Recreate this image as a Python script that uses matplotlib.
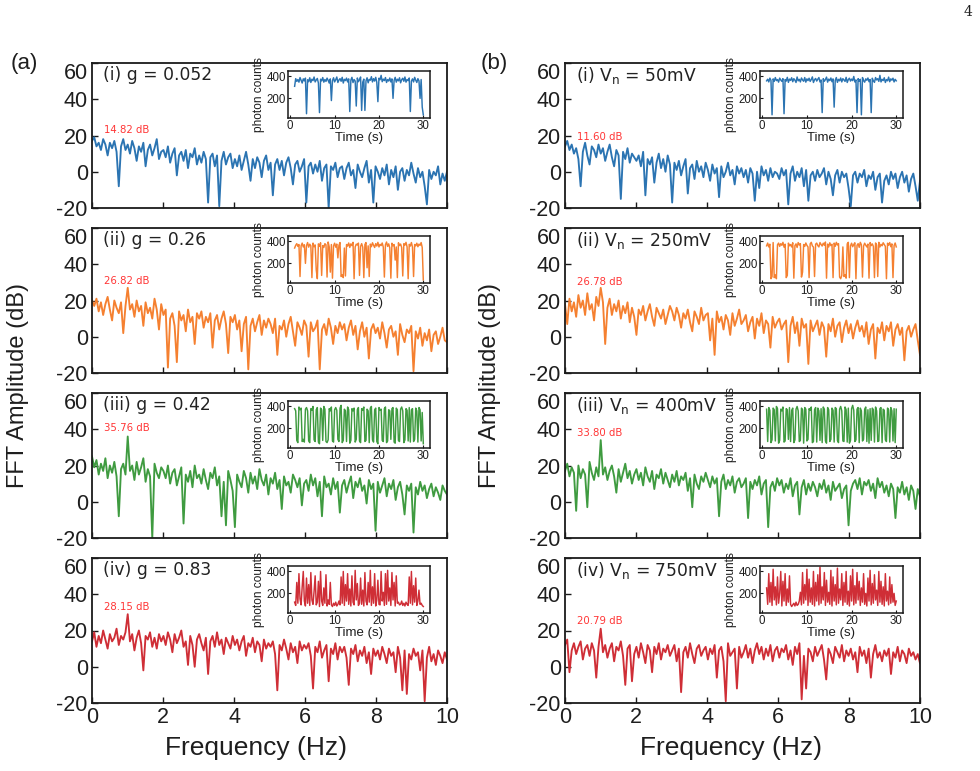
import numpy as np
import matplotlib
matplotlib.use("Agg")
import matplotlib.pyplot as plt

# ---------------- data ----------------
N_FFT = 160
freq = np.linspace(0, 10, N_FFT)

fft_a1 = [17, 19, 14, 16, 12, 18, 15, 9, 16, 13, 17, 11, -8, 14, 18, 12,
          15, 10, 17, 13, 6, 14, 11, 16, 3, 12, 15, 9, 13, 18, 7, 11,
          12, 8, 14, 5, 10, 13, -2, 9, 11, 6, 12, 2, 10, 8, 13, 4,
          9, 5, 11, 7, -17, 8, 10, 3, 9, -19, 6, 11, 4, 8, 10, 2,
          7, 3, 9, 1, 6, 11, 4, -5, 7, 2, 8, 5, -3, 6, 9, 1,
          5, -13, 4, 7, 1, 6, -2, 5, 8, 2, -7, 4, 6, 0, 3, 7,
          -17, 3, 5, -1, 4, 0, 6, -5, 2, 4, -20, 3, 1, 5, -3, 2,
          3, -4, 2, 5, -2, 1, -9, 4, 0, -3, 2, 6, -6, 1, -17, 3,
          0, -4, 2, -2, 4, -7, 1, -3, 3, -10, 0, 2, -5, 1, -2, 5,
          -1, -6, 2, -3, 0, -8, -18, 1, -4, 0, -2, 3, -7, -1, -5, 0]
fft_a2 = [20, 17, 21, 14, 19, 12, 18, 22, 15, 9, 20, 16, 13, 19, 2, 17,
          27, 15, 18, 11, 20, 14, 17, 6, 19, 13, 16, 10, 21, 15, 4, 18,
          12, 15, -17, 10, 13, 6, -14, 14, 9, 12, 3, 15, 8, 11, -4, 13,
          10, 14, 5, 11, 8, 13, -6, 9, 12, 4, 10, 14, 7, -9, 11, 8,
          12, 4, 9, -8, 7, 11, -18, 6, 10, 3, 8, 12, 1, 9, 5, 10,
          7, 2, 10, -10, 6, 4, 9, 0, 7, 11, 3, -5, 8, 5, 1, 9,
          6, -11, 8, 3, 5, 9, -18, 4, 7, 1, 10, 5, -4, 6, 2, 8,
          4, 7, -2, 5, 9, 1, 6, -7, 3, 8, 0, 5, -12, 4, 7, 2,
          5, -1, 8, 2, -6, 4, 6, 0, 3, -10, 7, 1, -3, 4, 2, 6,
          -19, 3, -1, 5, -5, 2, -2, 4, -8, 1, 3, -4, 0, 5, -2, -3]
fft_a3 = [25, 19, 23, 15, 21, 17, 24, 13, 20, 16, 22, 14, -8, 18, 21, 15,
          36, 17, 20, 12, 22, 15, 19, 24, 11, 18, 14, -20, 21, 16, 13, 19,
          17, 13, 20, 10, 16, 18, 9, 14, 19, -12, 15, 11, 17, 8, 20, 13,
          15, 10, 18, 12, 7, 16, 13, 19, 9, 14, -8, 11, -13, 17, 12, 6,
          -14, 15, 11, 8, 17, 13, 5, 16, 10, 14, 7, 18, 12, 9, 15, 4,
          13, 10, 16, 7, 12, -4, 14, 9, 11, 5, 15, 12, 8, 13, -2, 10,
          12, 6, 15, 9, 13, 3, 11, -8, 14, 8, 10, 4, 13, 7, 11, -6,
          9, 12, 5, 10, 14, 2, 11, 8, 13, 6, 9, -1, 12, 7, 10, -16,
          11, 5, 9, 13, 3, 10, 7, 12, 1, 8, 11, 4, -7, 9, 6, 10,
          -17, 8, 4, 11, 6, 9, 2, 7, 10, 3, 8, 5, 1, 9, 6, 4]
fft_a4 = [14, 19, 11, 17, 13, 20, 15, 10, 18, 14, 16, 21, 12, 17, 15, 19,
          29, 14, 18, 9, 16, 20, 13, -2, 17, 15, 19, 11, 16, 10, 18, 14,
          17, 12, 19, 15, 8, 18, 13, 16, 20, 11, 14, 1, 17, 12, 0, 15,
          18, 13, 9, 16, -4, 14, 17, 11, 19, 12, 15, 7, 16, 13, 10, 17,
          12, 15, 9, 14, 17, 6, 13, 11, 16, 8, 14, 12, 3, 15, 10, 13,
          11, 14, 7, -13, 12, 9, 15, 10, 4, 13, 8, 11, 2, 14, 9, 12,
          10, 13, 6, -12, 11, 8, 14, 5, 9, 12, -8, 10, 7, 13, 4, 11,
          8, 11, 5, -10, 10, 7, 12, 3, 9, 6, 11, 2, 8, -4, 10, 6,
          9, 4, 11, 7, 2, 10, 6, 8, -3, 11, 5, -13, 9, -15, 7, 4,
          10, 6, 8, -2, 9, -19, 5, 11, 3, 7, 1, 9, 6, 2, 8, 4]
fft_b1 = [14, 17, 12, 15, 10, 13, 7, -8, 11, 16, 9, 4, 14, 12, 8, 15,
          10, 13, 6, 11, 15, 8, 3, 12, 9, -15, 11, 7, 13, 5, 10, 8,
          6, 9, 3, 11, -13, 7, 4, 8, -6, 5, 10, 2, 7, 0, 9, 4,
          -17, 5, 1, 6, -2, 3, 7, -12, 2, 4, -4, 6, 0, 3, -3, 5,
          1, -5, 4, -1, 2, -14, 3, -3, 0, 5, -2, 1, -7, 3, -1, 2,
          -3, 1, -6, 2, -1, -16, 0, -9, 3, -2, 1, -5, 2, -3, 0, -1,
          -4, 2, -2, 1, -18, -1, 3, -5, 0, -3, 2, -8, 1, -16, -2, 0,
          -5, 1, -3, -1, 2, -7, 0, -4, -13, -2, 1, -6, 0, -3, -1, -9,
          -19, -2, 0, -6, -1, -3, 1, -8, -2, -4, 0, -10, -3, -1, -17, -5,
          -2, -7, 0, -4, -1, -9, -3, 0, -6, -2, -11, -4, -1, -8, -16, -5]
fft_b2 = [18, 7, 21, 14, 19, 11, 23, 16, 20, 12, 24, 15, 18, 9, 22, 17,
          27, 19, -4, 16, 21, 12, 18, 14, 20, 10, 17, 13, 19, 8, 16, 11,
          1, 15, 12, 17, 9, 14, 18, 11, 6, 16, 13, 10, 15, 7, 12, 17,
          14, 9, 16, 12, 5, 13, 10, 15, 8, 3, 14, 11, 7, 16, 9, 12,
          13, -2, 10, -10, 14, 8, 11, 4, 12, 9, 1, 13, 6, 10, 15, 7,
          9, 12, 3, 8, 11, -1, 10, 6, 13, 2, 9, 7, -6, 11, 5, 8,
          10, 4, 7, 9, -14, 6, 11, 2, 8, -5, 10, 5, 7, -15, 9, 3,
          6, 9, 1, 8, 5, -11, 7, 3, 10, 0, 6, 8, -3, 5, 9, 2,
          7, -1, 5, 9, 3, 6, 0, 8, -4, 4, 7, -12, 5, 2, 8, -2,
          6, 3, 8, -5, 4, 7, 1, 5, -13, 3, 6, 0, 4, 7, -2, -10]
fft_b3 = [17, 21, 14, 19, 16, -5, 20, 13, 18, 15, -3, 22, 16, 12, 19, 14,
          34, 15, 19, 12, 17, 20, 14, 5, 18, 11, 16, 21, 13, 17, 10, 15,
          18, 12, 16, 9, 19, 14, 11, 17, 7, 15, 13, 18, 10, 16, 12, 8,
          15, 11, 17, 9, 14, 12, 16, 6, 13, -3, 15, 10, 7, 14, 11, 16,
          12, 8, 14, 10, 13, -8, 11, 15, 7, 12, 9, 14, 5, 11, 13, 8,
          10, 13, -9, 11, 7, 12, 9, 14, 4, 10, 12, -14, 8, 11, 6, 13,
          9, 12, 5, 10, 7, 13, 3, 9, 11, -7, 8, 12, 4, 10, 6, 11,
          8, 3, 10, 7, 12, 5, 9, 1, 11, 6, 8, 10, 2, 7, 9, -13,
          6, 10, 12, 7, 13, 4, 11, 9, 12, 6, 10, 2, 13, 8, 11, 5,
          9, 3, 10, 7, -9, 8, 5, 11, 4, 8, 1, 9, 6, -4, 7, 3]
fft_b4 = [12, 15, -3, 9, 13, 7, 11, 14, 4, 10, 12, 6, 13, 9, -6, 11,
          21, 8, 12, 5, 10, 13, 3, 11, 9, 14, 6, -10, 10, 12, -8, 7,
          11, 5, 13, 8, 2, 12, 9, -3, 11, 7, 13, 4, 10, 8, 12, 6,
          9, 12, 3, 10, -14, 8, 11, 5, 13, 7, 2, 10, 12, 6, 9, 11,
          4, 10, 7, 12, -6, 9, 11, 3, -19, 13, 6, 8, 10, -12, 11, 5,
          8, 12, 5, 10, 2, 9, 13, 7, 11, 4, 10, 6, 12, 3, 9, 11,
          5, 10, 8, 12, 4, 9, 1, 11, 7, 13, -18, 6, -12, 10, 8, 3,
          11, 6, 9, 12, 4, -7, 10, 7, 2, 11, 8, 5, 12, 3, 9, 6,
          10, 4, 8, -3, 11, 6, 9, 2, 10, -6, 7, 12, 5, 8, 3, 9,
          6, 10, -4, 8, 5, 11, 3, 9, 7, 2, 10, 6, 8, 4, 7, 2]

N_T = 120
time_s = np.linspace(1, 30, N_T)

cnt_a1 = [310, 380, 355, 372, 348, 390, 365, 340, 378, 360, 385, 60,
          370, 352, 388, 345, 375, 362, 395, 350, 368, 382, 340, 70,
          375, 360, 390, 348, 372, 355, 385, 365, 340, 378, 180, 362,
          388, 350, 370, 395, 345, 368, 380, 356, 392, 340, 374, 362,
          385, 350, 378, 80, 366, 392, 344, 372, 358, 130, 386, 352,
          370, 395, 90, 348, 376, 90, 360, 388, 342, 374, 365, 398,
          350, 380, 358, 392, 346, 170, 384, 370, 410, 352, 376, 362,
          390, 345, 372, 358, 386, 350, 378, 200, 364, 392, 348, 375,
          360, 388, 342, 370, 384, 356, 395, 348, 372, 362, 386, 80,
          358, 378, 350, 392, 366, 345, 380, 360, 200, 372, 120, 50]
cnt_a2 = [340, 365, 380, 355, 372, 80, 360, 385, 350, 370, 200, 362,
          390, 348, 375, 360, 70, 385, 352, 368, 140, 60, 378, 355,
          388, 90, 362, 345, 380, 370, 75, 395, 350, 120, 372, 65,
          360, 384, 348, 376, 250, 365, 390, 80, 95, 70, 340, 85,
          372, 358, 386, 345, 378, 362, 392, 60, 350, 375, 368, 385,
          90, 355, 380, 348, 70, 372, 390, 160, 360, 80, 376, 352,
          388, 365, 345, 380, 358, 392, 350, 374, 362, 386, 348, 75,
          370, 395, 355, 378, 342, 65, 384, 360, 372, 230, 350, 70,
          388, 362, 376, 345, 85, 380, 366, 392, 350, 60, 374, 358,
          390, 348, 80, 372, 360, 384, 352, 376, 364, 390, 345, 50]
cnt_a3 = [380, 360, 90, 70, 395, 370, 385, 80, 100, 75, 375, 390,
          360, 85, 70, 380, 365, 400, 95, 80, 370, 390, 75, 60,
          385, 370, 90, 400, 375, 80, 70, 95, 380, 360, 395, 85,
          75, 370, 390, 365, 100, 80, 385, 410, 70, 90, 375, 360,
          80, 395, 370, 65, 90, 380, 360, 385, 75, 100, 370, 390,
          85, 70, 380, 365, 395, 80, 90, 375, 360, 70, 385, 400,
          95, 75, 370, 385, 80, 60, 390, 365, 375, 90, 80, 380,
          395, 70, 85, 370, 360, 100, 380, 390, 75, 65, 385, 370,
          90, 80, 375, 395, 360, 70, 95, 380, 365, 85, 390, 75,
          370, 380, 80, 100, 385, 360, 75, 390, 370, 85, 345, 60]
cnt_a4 = [120, 90, 300, 110, 380, 150, 95, 260, 400, 130, 85, 340,
          110, 280, 90, 390, 140, 100, 220, 360, 95, 120, 310, 80,
          400, 130, 90, 250, 110, 370, 85, 140, 100, 300, 95, 80,
          110, 90, 120, 85, 100, 130, 95, 350, 110, 400, 90, 280,
          130, 380, 100, 240, 85, 360, 120, 95, 410, 140, 290, 90,
          110, 340, 100, 230, 85, 390, 130, 95, 300, 120, 410, 90,
          260, 110, 380, 85, 140, 320, 100, 95, 400, 130, 210, 90,
          380, 100, 410, 130, 250, 90, 390, 140, 300, 85, 360, 110,
          120, 95, 100, 130, 90, 110, 85, 120, 100, 90, 350, 110,
          400, 95, 270, 120, 340, 90, 130, 230, 100, 110, 90, 80]
cnt_b1 = [360, 375, 350, 385, 365, 50, 378, 355, 390, 362, 372, 348,
          385, 368, 355, 380, 60, 372, 358, 392, 346, 376, 364, 388,
          352, 380, 366, 345, 395, 360, 374, 350, 386, 368, 356, 390,
          348, 378, 362, 384, 355, 372, 396, 345, 370, 382, 358, 375,
          390, 350, 368, 70, 380, 356, 372, 394, 348, 376, 362, 386,
          352, 378, 120, 365, 390, 346, 374, 360, 386, 350, 380, 368,
          355, 392, 345, 372, 384, 358, 376, 362, 400, 350, 368, 70,
          380, 356, 374, 50, 390, 362, 348, 378, 365, 386, 352, 372,
          70, 384, 360, 346, 390, 368, 380, 355, 410, 350, 374, 362,
          388, 345, 372, 360, 394, 352, 378, 366, 384, 350, 374, 360]
cnt_b2 = [360, 385, 350, 375, 60, 80, 390, 70, 95, 60, 370, 385,
          355, 380, 365, 392, 348, 375, 70, 90, 385, 360, 372, 350,
          388, 65, 362, 378, 345, 390, 368, 380, 75, 120, 372, 355,
          386, 364, 350, 70, 378, 392, 360, 348, 80, 375, 385, 362,
          350, 390, 372, 358, 384, 366, 395, 65, 376, 350, 388, 362,
          374, 70, 385, 356, 392, 368, 380, 75, 60, 90, 350, 80,
          95, 65, 378, 392, 70, 360, 384, 352, 372, 388, 60, 365,
          380, 346, 392, 370, 75, 358, 384, 366, 350, 376, 65, 390,
          362, 378, 355, 70, 386, 368, 80, 392, 350, 374, 360, 388,
          372, 355, 60, 384, 366, 390, 352, 378, 70, 362, 386, 350]
cnt_b3 = [375, 80, 390, 365, 70, 95, 385, 370, 85, 400, 380, 65,
          90, 375, 360, 395, 75, 85, 380, 370, 100, 390, 80, 365,
          385, 70, 95, 375, 400, 360, 80, 90, 385, 370, 65, 390,
          375, 85, 100, 380, 365, 395, 70, 80, 370, 390, 75, 385,
          360, 90, 380, 70, 395, 375, 85, 65, 390, 370, 80, 100,
          385, 365, 75, 390, 380, 90, 70, 375, 400, 360, 85, 80,
          395, 370, 75, 385, 65, 90, 380, 410, 365, 80, 95, 375,
          390, 70, 385, 360, 85, 100, 375, 395, 80, 370, 65, 380,
          90, 385, 370, 75, 395, 360, 80, 85, 380, 390, 70, 375,
          365, 95, 80, 385, 370, 75, 390, 360, 85, 380, 70, 375]
cnt_b4 = [250, 100, 380, 120, 300, 90, 420, 140, 260, 95, 350, 110,
          200, 400, 85, 310, 130, 380, 90, 240, 120, 360, 100, 80,
          95, 110, 85, 120, 90, 100, 130, 210, 95, 390, 110, 280,
          140, 420, 90, 330, 120, 250, 100, 400, 85, 300, 130, 370,
          95, 440, 110, 260, 140, 390, 90, 320, 120, 210, 100, 410,
          85, 350, 130, 280, 95, 430, 110, 240, 140, 380, 90, 300,
          120, 400, 100, 220, 85, 360, 130, 420, 95, 270, 110, 390,
          140, 310, 90, 250, 120, 380, 100, 200, 85, 340, 130, 410,
          95, 290, 110, 370, 140, 230, 90, 400, 120, 310, 100, 260,
          85, 380, 130, 220, 95, 350, 110, 280, 120, 200, 90, 130]

titles_a = ["(i) g = 0.052", "(ii) g = 0.26", "(iii) g = 0.42", "(iv) g = 0.83"]
titles_b = [r"(i) V$_\mathregular{n}$ = 50mV", r"(ii) V$_\mathregular{n}$ = 250mV",
            r"(iii) V$_\mathregular{n}$ = 400mV", r"(iv) V$_\mathregular{n}$ = 750mV"]
peaks_a = ["14.82 dB", "26.82 dB", "35.76 dB", "28.15 dB"]
peaks_b = ["11.60 dB", "26.78 dB", "33.80 dB", "20.79 dB"]
peak_y_a = [23, 31, 40.5, 33]
peak_y_b = [19, 30, 38, 25.5]
colors = ["#2b74b2", "#f58030", "#3f9b40", "#cf2e36"]
yticks = [-20, 0, 20, 40, 60]
ytick_labels = ["-20", "0", "20", "40", "60"]
xticks = [0, 2, 4, 6, 8, 10]

fft_a = [fft_a1, fft_a2, fft_a3, fft_a4]
fft_b = [fft_b1, fft_b2, fft_b3, fft_b4]
cnt_a = [cnt_a1, cnt_a2, cnt_a3, cnt_a4]
cnt_b = [cnt_b1, cnt_b2, cnt_b3, cnt_b4]

# ---------------- figure ----------------
W, H = 980, 771
fig = plt.figure(figsize=(W / 100, H / 100), dpi=100)
SANS = "Liberation Sans"
WIDE = "DejaVu Sans"
plt.rcParams["mathtext.fontset"] = "dejavusans"
FRAME = "#1a1a1a"
TXT = "#1e1e1e"

col_x = [92, 565]
row_top = [63, 228, 393, 558]
ax_w, ax_h = 355, 145


def style_frame(ax, lw):
    for s in ax.spines.values():
        s.set_linewidth(lw)
        s.set_color(FRAME)


for c in range(2):
    ffts = fft_a if c == 0 else fft_b
    cnts = cnt_a if c == 0 else cnt_b
    titles = titles_a if c == 0 else titles_b
    peaks = peaks_a if c == 0 else peaks_b
    peak_y = peak_y_a if c == 0 else peak_y_b
    ins_rect = [0.552, 0.62, 0.40, 0.325] if c == 0 else [0.549, 0.62, 0.403, 0.325]
    for r in range(4):
        left = col_x[c] / W
        bottom = 1 - (row_top[r] + ax_h) / H
        ax = fig.add_axes([left, bottom, ax_w / W, ax_h / H])
        ax.plot(freq, ffts[r], color=colors[r], lw=1.35)
        ax.set_xlim(0, 10)
        ax.set_ylim(-20, 60)
        ax.set_yticks(yticks)
        ax.set_yticklabels(ytick_labels, fontfamily=SANS, fontsize=15.5, color=TXT)
        ax.set_xticks(xticks)
        if r == 3:
            ax.set_xticklabels([str(x) for x in xticks], fontfamily=SANS,
                               fontsize=15.5, color=TXT)
        else:
            ax.set_xticklabels([])
        ax.tick_params(direction="in", length=4, width=1, color=FRAME, pad=3)
        ax.yaxis.get_major_ticks()[-1].label1.set_va("top")
        style_frame(ax, 1.3)
        ax.text(0.031, 0.915, titles[r], transform=ax.transAxes, fontsize=12.3,
                fontfamily=WIDE, color="#222222", va="center", ha="left")
        ax.text(0.35 if (c == 0 and r == 0) else 0.33, peak_y[r], peaks[r],
                fontsize=7.3, fontfamily=WIDE, color="#ff3535", va="center", ha="left")

        ins = ax.inset_axes(ins_rect)
        ins.plot(time_s, cnts[r], color=colors[r], lw=1.05)
        ins.set_xlim(-0.5, 31.5)
        ins.set_ylim(20, 450)
        ins.set_xticks([0, 10, 20, 30])
        ins.set_yticks([200, 400])
        ins.set_xticklabels(["0", "10", "20", "30"], fontfamily=SANS, fontsize=8.3, color=TXT)
        ins.set_yticklabels(["200", "400"], fontfamily=SANS, fontsize=8.3, color=TXT)
        ins.tick_params(direction="in", length=2.5, width=0.8, color=FRAME, pad=1.5)
        style_frame(ins, 1.1)
        ins.set_xlabel("Time (s)", fontfamily=SANS, fontsize=9.5, labelpad=0, color=TXT)
        ins.set_ylabel("photon counts", fontfamily=SANS, fontsize=8.6, labelpad=1, color=TXT)

# column labels
for xc, lab in [(18, "FFT Amplitude (dB)"), (490, "FFT Amplitude (dB)")]:
    fig.text(xc / W, 1 - 386 / H, lab, rotation=90, fontfamily=SANS, fontsize=17,
             ha="center", va="center", color=TXT)
for xc in (256, 731):
    fig.text(xc / W, 1 - 748 / H, "Frequency (Hz)", fontfamily=SANS, fontsize=19,
             ha="center", va="center", color=TXT)
fig.text(24 / W, 1 - 64 / H, "(a)", fontfamily=SANS, fontsize=16, ha="center",
         va="center", color=TXT)
fig.text(494 / W, 1 - 64 / H, "(b)", fontfamily=SANS, fontsize=16, ha="center",
         va="center", color=TXT)
fig.text(968 / W, 1 - 12 / H, "4", fontfamily="DejaVu Serif", fontsize=10,
         ha="center", va="center", color="#222222")

fig.savefig("out.png", dpi=100)
